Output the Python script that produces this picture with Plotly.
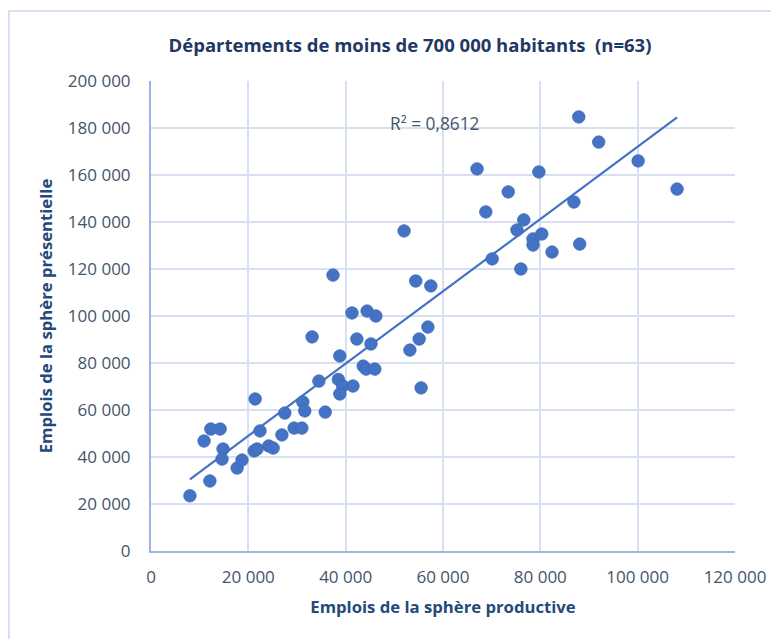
import numpy as np
import plotly.graph_objects as go

# Emplois de la sphère productive (x) et présentielle (y), 63 départements
productive = [8000, 12100, 10900, 12300, 14200, 14800, 14600, 17700, 18700, 21400,
              21200, 21800, 22400, 24200, 25100, 26900, 27500, 29400, 31000, 31200,
              31600, 34500, 35800, 38500, 39400, 41500, 38800, 37400, 54400, 57500,
              41300, 44400, 46200, 33100, 56900, 42300, 45200, 55100, 53200, 38800,
              43600, 44200, 46000, 55500, 52000, 87900, 92000, 100100, 108100, 67000,
              79700, 73400, 68800, 86900, 76600, 75200, 78500, 80300, 78500, 88100,
              82400, 70100, 76000]
presentielle = [23500, 29800, 46800, 51900, 51900, 43400, 39100, 35300, 38700, 64700,
                42600, 43400, 51100, 44700, 43800, 49400, 58700, 52300, 52300, 63400,
                59600, 72300, 59100, 73000, 70200, 70200, 66800, 117400, 114900, 112800,
                101300, 102100, 100000, 91100, 95300, 90200, 88100, 90200, 85500, 83000,
                78700, 77400, 77400, 69400, 136200, 184700, 174000, 166000, 154000, 162600,
                161300, 152800, 144300, 148500, 140900, 136600, 132800, 134900, 130200, 130600,
                127200, 124300, 120000]

title_text = "Départements de moins de 700 000 habitants  (n=63)"
x_title = "Emplois de la sphère productive"
y_title = "Emplois de la sphère présentielle"
r2_text = "R² = 0,8612"

x_arr = np.array(productive, dtype=float)
y_arr = np.array(presentielle, dtype=float)
slope, intercept = np.polyfit(x_arr, y_arr, 1)
x_line = np.array([x_arr.min(), x_arr.max()])
y_line = slope * x_line + intercept

blue = "#4472C4"
tick_col = "#44546A"
title_col = "#1F3864"
axis_title_col = "#24497A"
grid_col = "#D6E0F2"
axis_col = "#9DB6E0"

fig = go.Figure()
fig.add_trace(go.Scatter(x=x_line, y=y_line, mode="lines",
                         line=dict(color=blue, width=2.2), hoverinfo="skip",
                         showlegend=False))
fig.add_trace(go.Scatter(x=productive, y=presentielle, mode="markers",
                         marker=dict(color=blue, size=12.5,
                                     line=dict(color="#3E68B3", width=0.8)),
                         showlegend=False))

# page is offset by the 8px body margin
OFF = 8
W, H = 771, 631
L, T = 151 - OFF, 81 - OFF
pw, ph = 584, 470
R, B = W - L - pw, H - T - ph

def px_x(px):
    return (px - OFF - L) / pw

def px_y(py):
    return (H - B - (py - OFF)) / ph

fig.add_shape(type="rect", xref="paper", yref="paper",
              x0=px_x(9), x1=px_x(810), y0=px_y(660), y1=px_y(11),
              line=dict(color="#D6E0F2", width=2), fillcolor="rgba(0,0,0,0)",
              layer="below")

fig.add_annotation(text=r2_text, xref="paper", yref="paper",
                   x=px_x(434), y=px_y(110), showarrow=False,
                   font=dict(family="Open Sans", size=17.3, color=tick_col))

fig.update_layout(
    width=W, height=H,
    margin=dict(l=L, r=R, t=T, b=B),
    paper_bgcolor="white", plot_bgcolor="white",
    separators=", ",
    title=dict(text="<b>" + title_text + "</b>", x=(410 - OFF) / W, xref="container",
               xanchor="center", y=1 - (46 - OFF) / H, yref="container", yanchor="middle",
               font=dict(family="Open Sans", size=18.5, color=title_col)),
    font=dict(family="Open Sans", color=tick_col),
)
fig.update_xaxes(range=[0, 120000], dtick=20000, tickformat=",d",
                 showgrid=True, gridcolor=grid_col, gridwidth=1.5,
                 showline=True, linecolor=axis_col, linewidth=2,
                 zeroline=False, ticks="outside", ticklen=10,
                 tickcolor="rgba(0,0,0,0)",
                 tickfont=dict(family="Open Sans", size=17, color=tick_col),
                 title=dict(text="<b>" + x_title + "</b>", standoff=14,
                            font=dict(family="Open Sans", size=16.7, color=axis_title_col)))
fig.update_yaxes(range=[0, 200000], dtick=20000, tickformat=",d",
                 showgrid=True, gridcolor=grid_col, gridwidth=1.5,
                 showline=True, linecolor=axis_col, linewidth=2,
                 zeroline=False, ticks="outside", ticklen=15,
                 tickcolor="rgba(0,0,0,0)",
                 tickfont=dict(family="Open Sans", size=17, color=tick_col),
                 title=dict(text="<b>" + y_title + "</b>", standoff=11,
                            font=dict(family="Open Sans", size=16.7, color=axis_title_col)))

fig.write_html("out.html")
